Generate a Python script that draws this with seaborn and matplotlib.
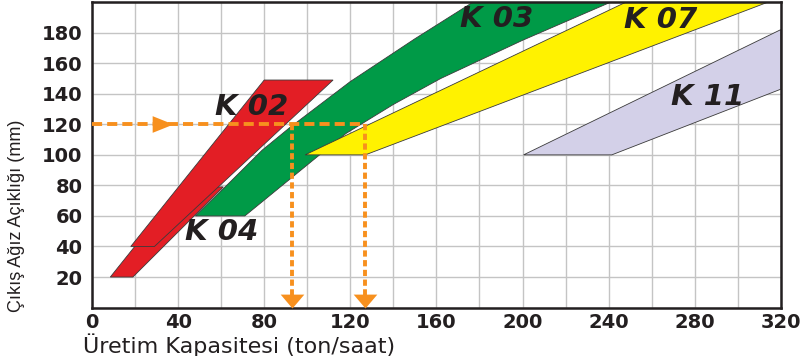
import matplotlib
matplotlib.use("Agg")
import matplotlib.pyplot as plt
import seaborn as sns

# chart values
x_ticks = [0, 40, 80, 120, 160, 200, 240, 280, 320]
y_ticks = [20, 40, 60, 80, 100, 120, 140, 160, 180]
grid_step = 20

models = ["K 04", "K 02", "K 03", "K 07", "K 11"]
band_colors = ["#e31e25", "#e31e25", "#009a47", "#fff200", "#d3d0e8"]

k04_x = [8.5, 19, 61, 42]
k04_y = [20, 20, 79, 79]
k02_x = [18, 29, 112, 80]
k02_y = [40, 40, 149, 149]
k03_upper_x = [48, 64, 79, 92, 120, 150, 177, 190]
k03_upper_y = [60, 82, 103, 118, 148, 176, 200, 211]
k03_lower_x = [71, 104, 118, 140, 162, 200, 241, 258]
k03_lower_y = [60, 98, 114, 133, 150, 175, 200, 210]
k07_x = [99, 127, 329, 260]
k07_y = [100, 100, 208, 208]
k11_x = [200.5, 241.5, 320, 320]
k11_y = [100, 100, 143, 182]

label_x = [60, 74, 188, 264, 286]
label_y = [49.5, 131.5, 189, 188, 138]

# example reading: 120 mm opening -> about 93 and 127 t/h
guide_y = 120
guide_x = [93, 127]
guide_arrow_x = 37.6

CONFIG = {
    "figsize": (8.0, 3.56),
    "dpi": 100,
    "orange": "#f7901e",
    "grid": "#c4c4c4",
    "text": "#231f20",
}

sns.set_theme(style="white")
plt.rcParams["font.family"] = ["DejaVu Sans"]

fig = plt.figure(figsize=CONFIG["figsize"], dpi=CONFIG["dpi"])
ax = fig.add_axes([0.115, 0.136, 0.861, 0.858])

ax.set_xlim(0, 320)
ax.set_ylim(0, 200)

# grid every 20 units, labels only where the reference has them
ax.set_xticks(range(0, 321, grid_step))
ax.set_xticklabels([str(v) if v in x_ticks else "" for v in range(0, 321, grid_step)])
ax.set_yticks(range(0, 201, grid_step))
ax.set_yticklabels([str(v) if v in y_ticks else "" for v in range(0, 201, grid_step)])
ax.grid(True, color=CONFIG["grid"], linewidth=1.0, zorder=0)
ax.set_axisbelow(True)

ax.tick_params(axis="both", length=0, labelsize=14, colors=CONFIG["text"])
ax.tick_params(axis="y", pad=7)
ax.tick_params(axis="x", pad=4)
for lab in ax.get_xticklabels() + ax.get_yticklabels():
    lab.set_fontweight("bold")

for sp in ax.spines.values():
    sp.set_color(CONFIG["text"])
    sp.set_linewidth(1.8)
    sp.set_visible(True)

# capacity bands
shapes = [
    (k04_x, k04_y),
    (k02_x, k02_y),
    (k03_lower_x + k03_upper_x[::-1], k03_lower_y + k03_upper_y[::-1]),
    (k07_x, k07_y),
    (k11_x, k11_y),
]
for (sx, sy), col in zip(shapes, band_colors):
    ax.fill(sx, sy, facecolor=col, edgecolor="#3a3a3a", linewidth=0.6, zorder=2)

# orange guide lines
orange = CONFIG["orange"]
ax.plot([0, max(guide_x)], [guide_y, guide_y], color=orange, linewidth=2.8,
        dashes=(2.6, 1.3), zorder=4, solid_capstyle="butt")
for gx in guide_x:
    ax.plot([gx, gx], [guide_y, 8], color=orange, linewidth=2.8,
            dashes=(1.6, 0.9), zorder=4)

down_tri = [(0, 0), (-1.7, 2), (1.7, 2), (0, 0)]
right_tri = [(0, 0), (-2, 0.8), (-2, -0.8), (0, 0)]
ax.plot(guide_x, [0, 0], linestyle="none", marker=down_tri, markersize=20,
        color=orange, markeredgewidth=0, zorder=5, clip_on=False)
ax.plot([guide_arrow_x], [guide_y], linestyle="none", marker=right_tri,
        markersize=30, color=orange, markeredgewidth=0, zorder=5)

# model names
for name, tx, ty in zip(models, label_x, label_y):
    ax.text(tx, ty, name, fontsize=21, fontweight="bold", fontstyle="italic",
            color=CONFIG["text"], ha="center", va="center", zorder=6)

ax.set_xlabel("Üretim Kapasitesi (ton/saat)", fontsize=16, color=CONFIG["text"],
              loc="left")
ax.xaxis.set_label_coords(-0.013, -0.083)
ax.set_ylabel("Çıkış Ağız Açıklığı (mm)", fontsize=13, color=CONFIG["text"],
              family=["Liberation Sans Narrow", "Liberation Sans", "DejaVu Sans"])
ax.yaxis.set_label_coords(-0.097, 0.30)

fig.savefig("out.png", dpi=CONFIG["dpi"], facecolor="white")
